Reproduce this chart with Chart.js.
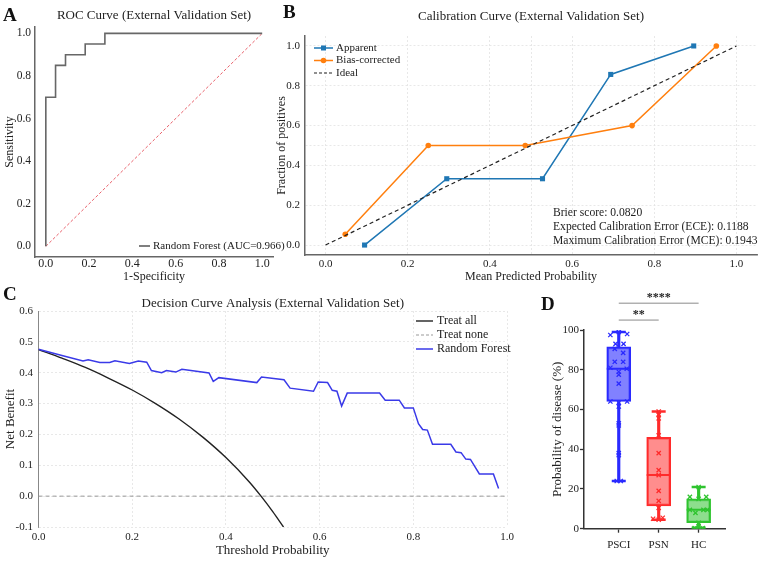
<!DOCTYPE html>
<html>
<head>
<meta charset="utf-8">
<script src="https://cdn.jsdelivr.net/npm/chart.js@4.4.1/dist/chart.umd.min.js"></script>
<style>
  html, body { margin: 0; padding: 0; background: #fff; }
  #page { position: relative; width: 767px; height: 561px; overflow: hidden; font-family: "Liberation Serif", "DejaVu Serif", serif; }
  .panel { position: absolute; }
  .tag { position: absolute; font-weight: bold; font-size: 19px; line-height: 19px; color: #111; }
</style>
</head>
<body>
<div id="page">
  <div class="panel" style="left:0;top:0;width:285px;height:290px"><canvas id="rocChart"></canvas></div>
  <div class="panel" style="left:270px;top:0;width:497px;height:290px"><canvas id="calChart"></canvas></div>
  <div class="panel" style="left:0;top:290px;width:520px;height:271px"><canvas id="dcaChart"></canvas></div>
  <div class="panel" style="left:520px;top:290px;width:247px;height:271px"><canvas id="boxChart"></canvas></div>
  <div class="tag" style="left:3px;top:5px">A</div>
  <div class="tag" style="left:283px;top:2px">B</div>
  <div class="tag" style="left:3px;top:284px">C</div>
  <div class="tag" style="left:541px;top:294px">D</div>
</div>
<script>
const FONT = '"Liberation Serif", "Times New Roman", serif';
Chart.defaults.font.family = FONT;
Chart.defaults.color = '#222';
Chart.defaults.animation = false;
Chart.defaults.plugins.legend.display = false;
Chart.defaults.plugins.tooltip.enabled = false;

// ---------- A: ROC ----------
const rocFpr = [0, 0, 0.045, 0.045, 0.091, 0.091, 0.182, 0.182, 0.273, 0.273, 1.0];
const rocTpr = [0, 0.70, 0.70, 0.85, 0.85, 0.90, 0.90, 0.95, 0.95, 1.0, 1.0];
const rocTicks = [0, 0.2, 0.4, 0.6, 0.8, 1.0];

// ---------- B: calibration ----------
const apparentX = [0.095, 0.295, 0.528, 0.694, 0.896];
const apparentY = [0.0, 0.333, 0.333, 0.857, 1.0];
const biasX = [0.048, 0.25, 0.486, 0.746, 0.951];
const biasY = [0.054, 0.5, 0.5, 0.6, 1.0];
const idealXY = [0, 1];
const calTicks = [0, 0.2, 0.4, 0.5, 0.6, 0.8, 1.0];
const calStats = ['Brier score: 0.0820', 'Expected Calibration Error (ECE): 0.1188', 'Maximum Calibration Error (MCE): 0.1943'];

// ---------- C: decision curve ----------
const rfT = [0, 0.05, 0.095, 0.106, 0.131, 0.152, 0.163, 0.194, 0.213, 0.231, 0.241, 0.263, 0.273, 0.293, 0.306,
  0.364, 0.373, 0.385, 0.466, 0.476, 0.524, 0.537, 0.587, 0.597, 0.617, 0.627, 0.637, 0.647, 0.659, 0.728,
  0.740, 0.770, 0.781, 0.800, 0.811, 0.820, 0.830, 0.841, 0.880, 0.891, 0.902, 0.912, 0.922, 0.941, 0.971, 0.982];
const rfNB = [0.476, 0.456, 0.438, 0.442, 0.433, 0.433, 0.439, 0.430, 0.438, 0.434, 0.407, 0.400, 0.407, 0.402, 0.411,
  0.399, 0.372, 0.384, 0.368, 0.386, 0.377, 0.350, 0.340, 0.370, 0.368, 0.343, 0.340, 0.292, 0.334, 0.334,
  0.311, 0.311, 0.286, 0.286, 0.235, 0.216, 0.214, 0.168, 0.168, 0.143, 0.141, 0.120, 0.119, 0.072, 0.072, 0.025];
const allT = [0, 0.05, 0.1, 0.15, 0.2, 0.25, 0.3, 0.35, 0.4, 0.45, 0.475, 0.5, 0.523];
const allNB = [0.475, 0.447, 0.417, 0.382, 0.344, 0.300, 0.250, 0.192, 0.125, 0.046, 0, -0.05, -0.1];
const noneT = [0, 1];
const noneNB = [0, 0];

// ---------- D: box plot ----------
const groups = ['PSCI', 'PSN', 'HC'];
const boxMin = [24, 4.5, 0.5];
const boxQ1 = [64, 11.5, 3];
const boxMedian = [80.5, 27, 9.5];
const boxQ3 = [91.5, 46, 15];
const boxMax = [99, 59, 21];
const psciValues = [99, 98, 97.5, 93, 93, 90.5, 88.5, 84, 84, 81, 80.5, 79, 77.5, 73, 64, 64, 63.5, 61.5, 53, 52, 38, 37, 24, 24];
const psciJitter = [0, 0.21, -0.21, -0.08, 0.12, -0.1, 0.11, -0.1, 0.11, -0.21, 0.2, 0, 0, 0, -0.21, 0.21, 0, 0, 0, 0, 0, 0, -0.05, 0.05];
const psnValues = [59, 57.5, 55.5, 47, 38, 29.5, 27, 19, 14, 10.5, 5.5, 5, 4.5];
const psnJitter = [0, 0, 0, 0, 0, 0, 0, 0, 0, 0, 0.1, -0.14, 0];
const hcValues = [21, 16, 16, 15, 9.5, 9.5, 9.5, 8, 3, 1, 0.3, 0.3];
const hcJitter = [0, -0.22, 0.19, 0, -0.22, 0.12, 0.22, -0.08, 0, 0, -0.1, 0.1];
const sigFrom = [1, 1];
const sigTo = [2, 3];
const sigLevel = [105, 113.5];
const sigLabel = ['**', '****'];

const pts = (xs, ys) => xs.map((x, i) => ({ x, y: ys[i] }));
const fixTicks = vals => scale => { scale.ticks = vals.map(value => ({ value })); };
const f1 = v => v.toFixed(1);
const serif = size => ({ family: FONT, size, weight: 'normal', lineHeight: 1.2 });

function legendPlugin(spec) {
  return {
    id: 'lineLegend',
    afterDraw(chart) {
      const ctx = chart.ctx;
      ctx.save();
      ctx.font = spec.font;
      ctx.textBaseline = 'middle';
      ctx.textAlign = 'left';
      spec.items.forEach((it, i) => {
        const y = spec.y + i * spec.rowH;
        ctx.strokeStyle = it.color;
        ctx.lineWidth = it.width || 1.5;
        ctx.setLineDash(it.dash || []);
        ctx.beginPath(); ctx.moveTo(spec.x, y); ctx.lineTo(spec.x + spec.len, y); ctx.stroke();
        ctx.setLineDash([]);
        const cx = spec.x + spec.len / 2;
        ctx.fillStyle = it.color;
        if (it.marker === 'rect') ctx.fillRect(cx - 2.5, y - 2.5, 5, 5);
        if (it.marker === 'circle') { ctx.beginPath(); ctx.arc(cx, y, 2.8, 0, Math.PI * 2); ctx.fill(); }
        ctx.fillStyle = '#222';
        ctx.fillText(it.label, spec.x + spec.len + spec.gap, y);
      });
      ctx.restore();
    }
  };
}

function textPlugin(items) {
  return {
    id: 'notes',
    afterDraw(chart) {
      const ctx = chart.ctx;
      ctx.save();
      items.forEach(it => {
        const x = it.xv !== undefined ? chart.scales.x.getPixelForValue(it.xv) : it.x;
        const y = it.yv !== undefined ? chart.scales.y.getPixelForValue(it.yv) : it.y;
        ctx.font = it.font;
        ctx.fillStyle = '#222';
        ctx.textAlign = it.align || 'left';
        ctx.textBaseline = 'middle';
        ctx.fillText(it.text, x, y);
      });
      ctx.restore();
    }
  };
}

// ---------- A ----------
new Chart(document.getElementById('rocChart'), {
  type: 'line',
  data: { datasets: [
    { data: pts(rocFpr, rocTpr), borderColor: '#676767', borderWidth: 1.6, pointRadius: 0 },
    { data: pts(idealXY, idealXY), borderColor: '#e8606a', borderWidth: 1, borderDash: [3, 2], pointRadius: 0 },
  ]},
  options: {
    responsive: true, maintainAspectRatio: false,
    layout: { padding: { left: 0, right: 12, top: 0, bottom: 0 } },
    plugins: {
      title: { display: true, fullSize: false, text: 'ROC Curve (External Validation Set)', color: '#222', font: serif(13), padding: { top: 8.2, bottom: 3.2 } },
    },
    scales: {
      x: {
        type: 'linear', min: -0.05, max: 1.05,
        afterBuildTicks: fixTicks(rocTicks), afterFit: s => { s.height = 33; },
        grid: { display: false, drawTicks: false },
        border: { color: '#666', width: 1.5 },
        ticks: { font: serif(12), padding: 0, maxRotation: 0, callback: f1 },
        title: { display: true, text: '1-Specificity', font: serif(12), padding: { top: 0, bottom: 5.8 } },
      },
      y: {
        min: -0.05, max: 1.03,
        afterBuildTicks: fixTicks(rocTicks), afterFit: s => { s.width = 35; },
        grid: { display: false, drawTicks: false },
        border: { color: '#666', width: 1.5 },
        ticks: { font: serif(11.5), padding: 4, callback: f1 },
        title: { display: true, text: 'Sensitivity', font: serif(12), padding: { top: 2.4, bottom: 0 } },
      },
    }
  },
  plugins: [legendPlugin({ x: 139, y: 246, rowH: 12, len: 11, gap: 3, font: '11px ' + FONT,
    items: [{ label: 'Random Forest (AUC=0.966)', color: '#555', width: 1.5 }] })]
});

// ---------- B ----------
const gridB = { color: '#e2e2e2', lineWidth: 0.8, drawTicks: false };
new Chart(document.getElementById('calChart'), {
  type: 'line',
  data: { datasets: [
    { data: pts(idealXY, idealXY), borderColor: '#222', borderWidth: 1.2, borderDash: [4, 3], pointRadius: 0 },
    { data: pts(biasX, biasY), borderColor: '#ff7f0e', backgroundColor: '#ff7f0e', borderWidth: 1.5, pointStyle: 'circle', pointRadius: 2.8, pointBorderWidth: 0 },
    { data: pts(apparentX, apparentY), borderColor: '#1f77b4', backgroundColor: '#1f77b4', borderWidth: 1.5, pointStyle: 'rect', pointRadius: 3.6, pointBorderWidth: 0 },
  ]},
  options: {
    responsive: true, maintainAspectRatio: false,
    layout: { padding: { left: 0, right: 10, top: 0, bottom: 0 } },
    plugins: {
      title: { display: true, fullSize: false, text: 'Calibration Curve (External Validation Set)', color: '#222', font: serif(13), padding: { top: 9.2, bottom: 11.2 } },
    },
    scales: {
      x: {
        type: 'linear', min: -0.05, max: 1.05,
        afterBuildTicks: fixTicks(calTicks), afterFit: s => { s.height = 35; },
        grid: gridB, border: { color: '#666', width: 1.5, dash: [2, 2] },
        ticks: { font: serif(11), padding: 2.4, maxRotation: 0, callback: v => v === 0.5 ? '' : f1(v) },
        title: { display: true, text: 'Mean Predicted Probability', font: serif(12), padding: { top: 0, bottom: 5.8 } },
      },
      y: {
        min: -0.05, max: 1.05,
        afterBuildTicks: fixTicks(calTicks), afterFit: s => { s.width = 35; },
        grid: gridB, border: { color: '#666', width: 1.5, dash: [2, 2] },
        ticks: { font: serif(11), padding: 5, callback: v => v === 0.5 ? '' : f1(v) },
        title: { display: true, text: 'Fraction of positives', font: serif(12), padding: { top: 4.8, bottom: 0 } },
      },
    }
  },
  plugins: [
    legendPlugin({ x: 44, y: 48, rowH: 12.5, len: 19, gap: 3, font: '11px ' + FONT, items: [
      { label: 'Apparent', color: '#1f77b4', marker: 'rect' },
      { label: 'Bias-corrected', color: '#ff7f0e', marker: 'circle' },
      { label: 'Ideal', color: '#222', dash: [3, 2], width: 1.2 },
    ]}),
    textPlugin(calStats.map((text, i) => ({ text, x: 283, y: 213 + i * 14, font: '11.6px ' + FONT }))),
  ]
});

// ---------- C ----------
const gridC = { color: '#e2e2e2', lineWidth: 0.8, drawTicks: false };
new Chart(document.getElementById('dcaChart'), {
  type: 'line',
  data: { datasets: [
    { data: pts(rfT, rfNB), borderColor: '#3a3ae8', borderWidth: 1.5, pointRadius: 0 },
    { data: pts(allT, allNB), borderColor: '#222', borderWidth: 1.4, pointRadius: 0, cubicInterpolationMode: 'monotone' },
    { data: pts(noneT, noneNB), borderColor: '#999', borderWidth: 1, borderDash: [4, 3], pointRadius: 0 },
  ]},
  options: {
    responsive: true, maintainAspectRatio: false,
    layout: { padding: { left: 0, right: 13, top: 0, bottom: 0 } },
    plugins: {
      title: { display: true, fullSize: false, text: 'Decision Curve Analysis (External Validation Set)', color: '#222', font: serif(13), padding: { top: 5.4, bottom: 0 } },
    },
    scales: {
      x: {
        type: 'linear', min: 0, max: 1,
        afterBuildTicks: fixTicks([0, 0.2, 0.4, 0.6, 0.8, 1.0]), afterFit: s => { s.height = 34; },
        grid: gridC, border: { display: false, dash: [2, 2] },
        ticks: { font: serif(11), padding: 3.4, maxRotation: 0, callback: f1 },
        title: { display: true, text: 'Threshold Probability', font: serif(13), padding: { top: 0, bottom: 2.2 } },
      },
      y: {
        min: -0.1, max: 0.6,
        afterBuildTicks: fixTicks([-0.1, 0, 0.1, 0.2, 0.3, 0.4, 0.5, 0.6]), afterFit: s => { s.width = 38.5; },
        grid: gridC, border: { color: '#888', width: 1, dash: [2, 2] },
        ticks: { font: serif(11), padding: 5.5, callback: f1 },
        title: { display: true, text: 'Net Benefit', font: serif(13), padding: { top: 3.2, bottom: 0 } },
      },
    }
  },
  plugins: [legendPlugin({ x: 416, y: 31, rowH: 14, len: 17, gap: 4, font: '12px ' + FONT, items: [
    { label: 'Treat all', color: '#222', width: 1.4 },
    { label: 'Treat none', color: '#999', dash: [3, 2], width: 1 },
    { label: 'Random Forest', color: '#3a3ae8', width: 1.5 },
  ]})]
});

// ---------- D ----------
const edge = ['#2a2aff', '#ff2b2b', '#2fc42f'];
const fill = ['rgba(98,98,255,0.8)', 'rgba(255,112,112,0.8)', 'rgba(112,214,112,0.8)'];
const at = vals => vals.map((y, i) => ({ x: i + 1, y }));
const span = (lo, hi) => lo.map((v, i) => ({ x: i + 1, y: [v, hi[i]] }));
const jit = (vals, dx, g) => vals.map((y, i) => ({ x: g + dx[i], y }));
const cross = (data, color) => ({ type: 'scatter', data, pointStyle: 'crossRot', pointRadius: 3, pointBorderWidth: 1.3, borderColor: color, backgroundColor: color });
const tickGrid = { drawOnChartArea: false, drawTicks: true, tickLength: 4, tickColor: '#333', tickWidth: 1.3, offset: false };

new Chart(document.getElementById('boxChart'), {
  type: 'bar',
  data: { datasets: [
    cross(jit(psciValues, psciJitter, 1), edge[0]),
    cross(jit(psnValues, psnJitter, 2), edge[1]),
    cross(jit(hcValues, hcJitter, 3), edge[2]),
    { type: 'scatter', data: at(boxMedian), pointStyle: 'line', pointRadius: 12, pointBorderWidth: 2, borderColor: edge },
    { type: 'scatter', data: at(boxMin), pointStyle: 'line', pointRadius: 7, pointBorderWidth: 2.5, borderColor: edge },
    { type: 'scatter', data: at(boxMax), pointStyle: 'line', pointRadius: 7, pointBorderWidth: 2.5, borderColor: edge },
    { type: 'bar', data: span(boxQ1, boxQ3), backgroundColor: fill, borderColor: edge, borderWidth: 2, borderSkipped: false, barThickness: 24, maxBarThickness: 24, grouped: false },
    { type: 'bar', data: span(boxMin, boxQ1), backgroundColor: edge, borderWidth: 0, barThickness: 2.5, maxBarThickness: 2.5, grouped: false },
    { type: 'bar', data: span(boxQ3, boxMax), backgroundColor: edge, borderWidth: 0, barThickness: 2.5, maxBarThickness: 2.5, grouped: false },
    ...sigLevel.map((lvl, i) => ({ type: 'line', data: [{ x: sigFrom[i], y: lvl }, { x: sigTo[i], y: lvl }], borderColor: '#8a8a8a', borderWidth: 1, pointRadius: 0, clip: false })),
  ]},
  options: {
    responsive: true, maintainAspectRatio: false,
    layout: { padding: { left: 0, right: 42, top: 40, bottom: 0 } },
    scales: {
      x: {
        type: 'linear', min: 0.13, max: 3.66, offset: false,
        afterBuildTicks: fixTicks([1, 2, 3]), afterFit: s => { s.height = 32.3; },
        grid: tickGrid, border: { color: '#333', width: 1.5 },
        ticks: { font: serif(11), padding: 5.7, maxRotation: 0, autoSkip: false, callback: v => groups[v - 1] },
      },
      y: {
        min: 0, max: 100,
        afterBuildTicks: fixTicks([0, 20, 40, 60, 80, 100]), afterFit: s => { s.width = 64; },
        grid: tickGrid, border: { color: '#333', width: 1.5 },
        ticks: { font: serif(11), padding: 1 },
        title: { display: true, text: 'Probability of disease (%)', font: serif(13), padding: { top: 30.2, bottom: 0 } },
      },
    }
  },
  plugins: [textPlugin(sigLabel.map((text, i) => ({ text, xv: (sigFrom[i] + sigTo[i]) / 2, yv: sigLevel[i] + 2.6, align: 'center', font: 'bold 12px ' + FONT })))]
});
</script>
</body>
</html>
